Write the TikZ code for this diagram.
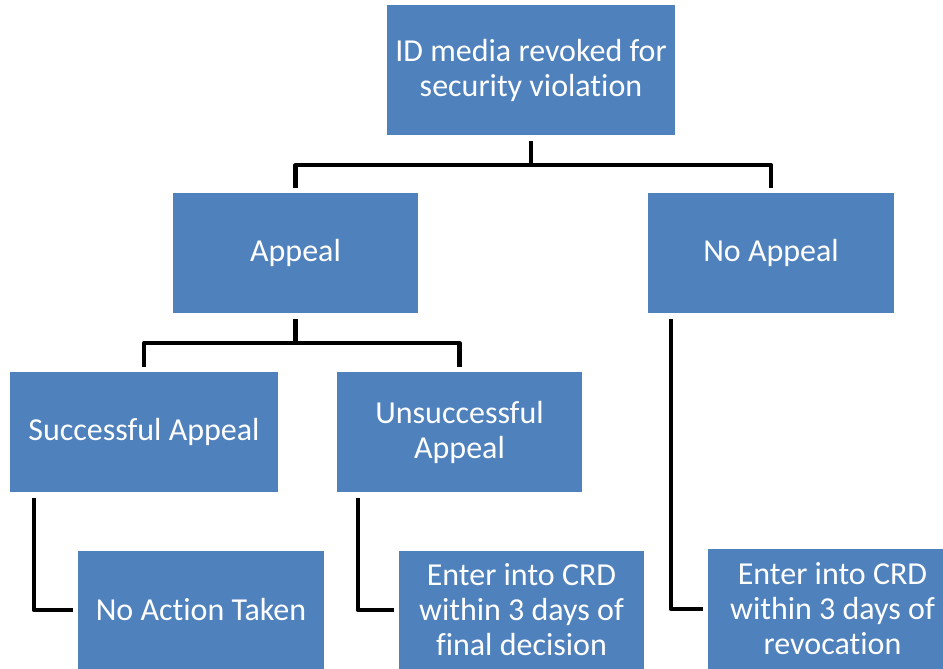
\documentclass[tikz,border=0pt]{standalone}
\usepackage{fontspec}
\setmainfont[Ligatures=NoCommon]{Carlito}
\definecolor{boxblue}{HTML}{4F81BD}
\tikzset{
  box/.style={fill=boxblue, draw=none, text=white, align=center,
    font=\fontsize{32}{35}\selectfont, inner sep=0pt},
  conn/.style={draw=black, line width=4.5pt, line join=round, line cap=butt,
    shorten <=6pt, shorten >=5pt},
}
\newcommand{\boxat}[6]{% name, left, top, right, bottom, text
  \node[box, minimum width=#4pt-#2pt, minimum height=#5pt-#3pt]
    (#1) at ({(#2+#4)/2}, {(#3+#5)/2}) {#6};}
\begin{document}
\begin{tikzpicture}[x=1pt, y=-1pt]
  \useasboundingbox (0,0) rectangle (943,669);
  % boxes
  \boxat{top}{387}{5}{675}{135}{ID media revoked for\\security violation}
  \boxat{appeal}{173}{193}{418}{313}{\raisebox{-2pt}{Appeal}}
  \boxat{noappeal}{648}{193}{894}{313}{\raisebox{-2pt}{No Appeal}}
  \boxat{succ}{10}{372}{278}{492}{\raisebox{-2pt}{Successful Appeal}}
  \boxat{unsucc}{337}{372}{582}{492}{Unsuccessful\\Appeal}
  \boxat{noaction}{78}{551}{324}{669}{No Action Taken}
  \boxat{crdone}{399}{551}{644}{669}{Enter into CRD\\within 3 days of\\final decision}
  \boxat{crdtwo}{708}{549}{957}{669}{Enter into CRD\\within 3 days of\\revocation}
  % tree connectors
  \draw[conn] (top.south) -- ++(0,30) -| (appeal.north);
  \draw[conn] (top.south) -- ++(0,30) -| (noappeal.north);
  \draw[conn] (appeal.south) -- ++(0,30) -| (succ.north);
  \draw[conn] (appeal.south) -- ++(0,30) -| (unsucc.north);
  % elbow connectors
  \draw[conn] ([xshift=24pt]succ.south west) |- (noaction.west);
  \draw[conn] ([xshift=21pt]unsucc.south west) |- (crdone.west);
  \draw[conn] ([xshift=23pt]noappeal.south west) |- (crdtwo.west);
\end{tikzpicture}
\end{document}
